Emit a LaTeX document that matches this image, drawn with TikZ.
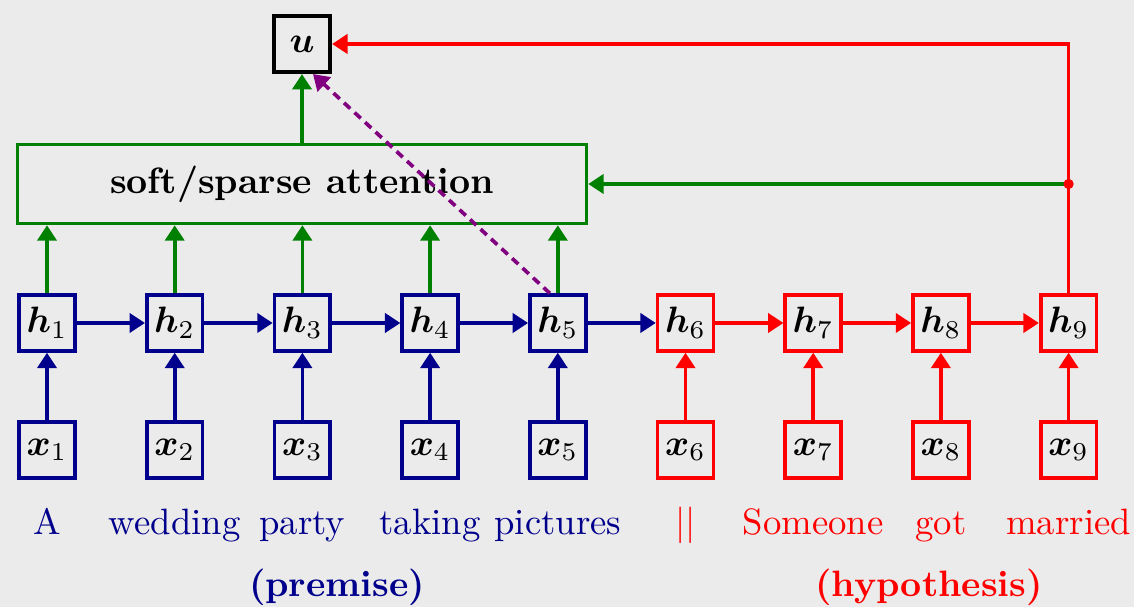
\documentclass[tikz,border=0pt]{standalone}
\usepackage{amsmath,bm}
\usetikzlibrary{arrows.meta,calc}

\definecolor{bgc}{RGB}{235,235,235}
\definecolor{premc}{RGB}{0,0,140}
\definecolor{attc}{RGB}{0,128,0}
\definecolor{hypc}{RGB}{255,0,0}
\definecolor{skipc}{RGB}{128,0,128}

\begin{document}
\begin{tikzpicture}[x=0.2725pt,y=-0.2725pt,
  cell/.style={draw,line width=1pt,minimum size=15.2pt,inner sep=0pt,fill=bgc},
  tip/.style={-{Triangle[length=4.2pt,width=5.2pt]}},
  link/.style={tip,line width=1pt,draw=#1},
  word/.style={anchor=base,text=#1},
  tag/.style={anchor=base,text=#1,font=\bfseries}]

\fill[bgc] (0,0) rectangle (1134,607);
\useasboundingbox (0,0) rectangle (1134,607);

% recurrent cells and their inputs
\foreach \i in {1,...,5}{
  \node[cell,draw=premc] (h\i) at ({47+127.7*(\i-1)},323) {$\bm{h}_{\i}$};
  \node[cell,draw=premc] (x\i) at ({47+127.7*(\i-1)},450) {$\bm{x}_{\i}$};
  \draw[link=premc] (x\i) -- (h\i);
}
\foreach \i in {6,...,9}{
  \node[cell,draw=hypc] (h\i) at ({47+127.7*(\i-1)},323) {$\bm{h}_{\i}$};
  \node[cell,draw=hypc] (x\i) at ({47+127.7*(\i-1)},450) {$\bm{x}_{\i}$};
  \draw[link=hypc] (x\i) -- (h\i);
}

% attention block and output
\node[draw=attc,line width=1pt,minimum width=155pt,minimum height=21.5pt,
      inner sep=0pt,font=\bfseries] (att) at (302,184) {soft/sparse attention};
\node[cell,draw=black,line width=1.2pt] (u) at (302,44) {$\bm{u}$};

% recurrence
\foreach \i/\j in {1/2,2/3,3/4,4/5,5/6}{
  \draw[link=premc] (h\i) -- (h\j);
}
\foreach \i/\j in {6/7,7/8,8/9}{
  \draw[link=hypc] (h\i) -- (h\j);
}

% attention inputs
\foreach \i in {1,...,5}{
  \draw[link=attc] (h\i.north) -- (h\i.north |- att.south);
}
\draw[link=attc] (att.north) -- (u.south);

% last state feeds the query and the output
\coordinate (jn) at (h9.north |- att.east);
\draw[link=hypc] (h9.north) |- (u.east);
\draw[link=attc] (jn) -- (att.east);
\fill[hypc] (jn) circle (1.4pt);

% skip connection
\draw[link=skipc,dash pattern=on 2.3pt off 1.6pt]
  ($(h5.north)+(-8,0)$) -- ($(u.south)+(11,0)$);

% tokens
\foreach \i/\w in {1/A,2/wedding,3/party,4/taking,5/pictures}{
  \node[word=premc] (w\i) at ({47+127.7*(\i-1)},535) {\w};
}
\node[word=hypc] (w6) at ({47+127.7*5},535) {$||$};
\foreach \i/\w in {7/Someone,8/got,9/married}{
  \node[word=hypc] (w\i) at ({47+127.7*(\i-1)},535) {\w};
}

\node[tag=premc] (prem) at (337,597) {(premise)};
\node[tag=hypc] (hyp) at (929,597) {(hypothesis)};
\end{tikzpicture}
\end{document}
